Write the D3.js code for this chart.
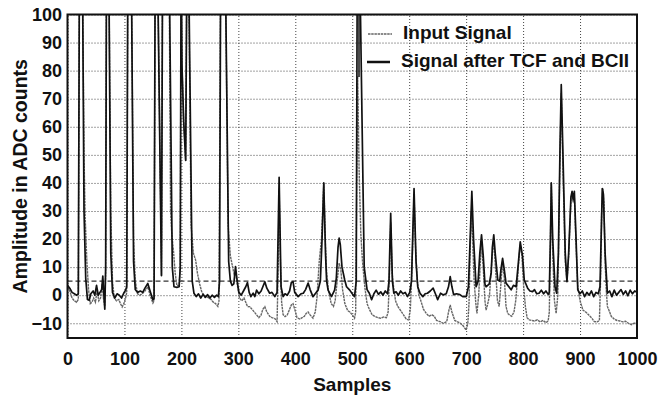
<!DOCTYPE html>
<html>
<head>
<meta charset="utf-8">
<script src="https://cdn.jsdelivr.net/npm/d3@7"></script>
<style>
body { margin: 0; background: #fff; }
svg text { font-family: "Liberation Sans", Arial, Helvetica, sans-serif; font-weight: bold; fill: #111; }
</style>
</head>
<body>
<div id="chart"></div>
<script>
// chart data: [sample, amplitude]
const xTicks = [0, 100, 200, 300, 400, 500, 600, 700, 800, 900, 1000];
const yTicks = [-10, 0, 10, 20, 30, 40, 50, 60, 70, 80, 90, 100];
const threshold = 5;
const legendLabels = ["Input Signal", "Signal after TCF and BCII"];

const inputSignal = [
    [0, 3], [4, 1.5], [8, -1], [12, -2], [16, -2.5], [19, -1.5], [21, 120], [26, 125], [29, 50], [31, 28],
    [34, 12], [37, 2], [40, -3], [43, -2.5], [46, -1], [49, -2.5], [52, 1.5], [55, -2], [58, -1], [61, 4],
    [63, -1], [65.5, -4], [67, 8], [68.5, 120], [72.5, 120], [76, 30], [79, 5], [82, -1], [86, -2], [90, -1.5],
    [93, -3], [96, -4.2], [99, -3], [102, -1], [104, 1], [106, 120], [112, 120], [116, 20], [119, 5], [123, 0.5],
    [127, 0], [131, 0.5], [136, 1.5], [141, 3], [145, 0], [150, -2.8], [152, -2], [154, 120], [158, 120], [165, 7],
    [167, 120], [178, 130], [181, 30], [183, 22], [186, 16], [189, 8], [192, 3.5], [196, 3.5], [198, 10], [199.5, 120],
    [201, 82], [204, 62], [207.5, 48], [210, 130], [212, 130], [217, 25], [221, 15], [225, 12.5], [228, 8], [232, 4],
    [236, 1], [240, 0], [244, -0.5], [248, -1], [252, -1.5], [256, -2.5], [260, -3], [264, -4], [266, -2], [269, 120],
    [277, 120], [282, 25], [286, 14], [290, 10], [293, 7], [295, 8.5], [298, 4], [302, -1], [306, -2], [310, -1],
    [313, -2.5], [316, -4], [320, -4.1], [326, -5.5], [332, -7], [336, -8], [340, -7], [343, -5], [346.5, -4.1], [350, -6],
    [355, -7.5], [359, -8], [364, -8.3], [368, -9.4], [370, 10], [371.6, 38], [374, 10], [376, -2.6], [378.6, -6.9], [382, -7.6],
    [386, -7], [390, -5], [393, -3.5], [396, -3], [399, -5], [403, -8], [408, -8.5], [412, -8], [416, -7.5], [419, -6.5],
    [422.5, -6], [426, -7], [431, -8.2], [435, -6], [438, -1], [442, 12], [446, 20], [450, 40], [453, 18], [455, 8],
    [458, 2], [463, -3], [467, -4], [470, -2], [474, 6], [477, 11.4], [480, 9], [483, 2], [487, -3], [492, -5.5],
    [496, -6], [500, -7], [504, -8.2], [506, -6], [509.5, 78], [512, 45], [515, 22], [518, 12], [522, 3], [526, -3],
    [530, -5], [535, -7], [540, -7.6], [545, -8], [550, -8.2], [555, -7.8], [560, -8], [563, -6], [565, 5], [567.5, 26],
    [570, 8], [573, 2], [576, -2], [580, -4], [585, -5.5], [590, -7], [595, -8.6], [599, -8.8], [602, -5], [605, 10],
    [608.5, 36], [611, 18], [614, 5.4], [617, 0], [620, -1.7], [625, -5], [630, -6.5], [635, -7.5], [640, -7], [644, -7.5],
    [648, -9], [654, -9.4], [660, -10], [666, -9.4], [669, -6], [672, -3.5], [675, -6], [680, -9], [685, -9.5], [690, -10],
    [695, -11], [700, -12.4], [703, -10], [705, -3], [707, 15], [709, 30], [711, 22], [714, 5], [717, -3], [719, -6.5],
    [722, 0], [725, 12], [727, 19], [730, 10], [733, -2], [735, -5.3], [738, -3], [741, 0], [745, 12], [748.5, 20],
    [752, 8], [755, -2], [758, -4], [761, 4], [764, 12], [767, 6], [770, -4], [773, -6.5], [776, -7], [780, -7.5],
    [784, -6], [787, -2], [790, 5], [793, 14], [795, 18], [798, 14], [801, 3], [804, -4], [807, -8], [811, -8.8],
    [815, -9], [820, -9.2], [825, -8.8], [830, -9.5], [835, -9], [840, -9.8], [844, -9.2], [846, -6], [848, 20], [849.5, 40],
    [852, 15], [855, -2], [858, -6.5], [861, 0], [864, 40], [867, 72], [870, 45], [874, 12], [877, 4.8], [880, 14],
    [884, 34], [886, 36], [888, 33], [890, 35], [893, 18], [896, 3], [900, -2], [905, -5.3], [910, -6], [915, -7],
    [920, -8], [925, -9.4], [930, -9.5], [934, -9], [936, 5], [938, 30], [940, 38], [942, 33], [944, 12], [946, 2],
    [948, -4], [952, -6], [955, -7.6], [960, -8.5], [965, -9], [970, -9.2], [975, -9.5], [980, -9.3], [985, -10], [990, -10.5],
    [995, -10], [1000, -9.8]
];

const filteredSignal = [
    [0, 3.5], [4, 2.5], [8, 1], [12, 0.5], [16, 0], [19, 0.5], [21, 120], [26, 125], [29, 30], [32, 6],
    [35, -1.5], [38, -1.8], [41, 0.5], [45, 1.5], [48, 0], [51, 3.5], [54, 0], [57, 1], [60, 2], [62, 6.8],
    [64, 0], [65.5, -5], [67, 10], [68.5, 120], [72.5, 120], [76, 15], [79, 1], [83, -1], [87, 0.5], [91, 0],
    [95, -1], [99, 0.8], [102, 1.8], [104, 3], [106, 120], [112, 120], [116, 12], [119, 2], [123, 1], [128, 1.5],
    [132, 1], [136, 2.5], [141, 4.2], [145, 1.5], [150, -1.7], [152, -1], [154, 120], [158, 120], [165, 7], [167, 120],
    [178, 130], [184, 10], [187, 3], [192, 2.8], [196, 3], [198, 10], [199.5, 120], [201, 82], [204, 62], [207.5, 48],
    [210, 130], [212, 130], [219, 5], [222, 0.7], [226, -0.5], [230, 0.5], [234, -1], [238, 0.3], [242, -0.8], [246, 0.2],
    [250, -1], [254, 0], [258, -0.8], [262, 0], [265, -0.5], [267, 5], [269, 120], [277, 120], [283, 12], [286, 5],
    [289, 3.5], [292, 4], [295, 10.2], [298, 5], [301, 1], [305, 0], [309, 1.5], [313, 3], [316, 4.5], [319, 1],
    [322, -0.5], [326, 0.7], [329, -0.5], [332, 1.8], [336, 0.5], [340, 1.5], [343, 3], [346.5, 4.8], [350, 2.5], [355, 0.7],
    [359, 1], [364, -0.5], [368, 1], [371.6, 42], [375, 3], [378.6, -0.5], [382, 0.5], [386, 0], [390, 1.5], [393, 4.5],
    [396, 4.8], [399, 1], [405, -0.5], [410, 0.5], [414, 0.7], [418, 2], [422.5, 4.3], [426, 2], [431, -0.5], [435, 0.5],
    [440, 1.8], [444, 5], [447, 20], [450, 40], [453, 15], [455, 5], [457.6, 1.8], [463.5, -0.5], [469, 1.8], [472, 6],
    [475, 17], [477, 20.3], [479, 18], [482, 10], [486.8, 5.4], [490, 3], [495.6, 1.8], [500, 0.5], [504, -0.5], [507, 5],
    [509, 130], [513, 120], [521, 10], [526, 2], [530, 0.7], [534, -1.6], [538, 0.5], [542, 1.8], [546, 0.3], [550, 1.2],
    [554, 0], [558, 1.5], [562, 0.5], [564.5, 5], [567.5, 29.2], [570.5, 5], [573, 0.7], [577, 1.2], [581, 0], [585, 1.5],
    [589, 0.5], [593, 1], [597, -0.5], [601, 1], [604, 5], [608.5, 38], [612, 12], [615, 3], [619, 0.7], [624, -0.5],
    [628, 0.5], [632, 0.7], [637, 1.5], [642, 2.5], [646, 0.5], [650, -1.6], [655, 0.7], [660, 0.1], [665, 0.5], [669, 3],
    [672, 6.6], [675, 3], [678, 0.2], [683, 0.5], [689, 0.2], [694, -0.5], [700, -0.5], [704, 3], [707, 20], [710, 37],
    [713, 20], [717.5, 3], [721, 5], [724, 15], [727, 21.5], [730, 14], [733, 4], [735, 3], [740.6, 4], [744, 8],
    [746, 17], [748.5, 21.5], [751, 15], [755.5, 5.4], [759, 5], [761, 9], [764, 13.1], [767, 9], [770, 4.3], [775, 3],
    [779, 1.9], [783, 3.5], [787.7, 3], [791, 10], [795, 19], [799, 14], [802, 5.4], [808, 2.5], [812, 1.5], [816.6, 1.3],
    [820, 2], [824, 0.5], [828, 0.7], [832, 1.8], [836, 0.5], [840, 1.5], [844, 0.3], [846, 1], [848, 20], [849.5, 40],
    [852, 20], [856, 3], [859, 0.7], [862, 15], [865, 55], [867, 75], [870, 50], [874, 15], [877, 4.8], [880, 15],
    [884, 35], [886, 37], [888, 34], [890, 37], [893, 20], [896, 1.9], [900, 0.5], [904, 1.5], [908, -0.5], [912, 1],
    [916, 0], [920, 1.5], [924, -0.5], [928, 1], [932, 0.5], [935, 3], [937, 20], [939, 38], [941, 36], [944, 15],
    [948, 0.7], [952, 1.5], [956, -0.5], [960, 1.8], [964, 0], [968, 1], [972, 2], [976, 0.3], [980, 1.5], [984, -0.2],
    [988, 1.8], [992, 0.5], [996, 1.5], [1000, 1]
];

var width = 660, height = 400;
var plotLeft = 67.5, plotRight = 637, plotTop = 14.5, plotBottom = 338;

var x = d3.scaleLinear().domain([0, 1000]).range([plotLeft, plotRight]);
var y = d3.scaleLinear().domain([-15.25, 100]).range([plotBottom, plotTop]);

var svg = d3.select("#chart").append("svg")
        .attr("width", width)
        .attr("height", height);

svg.append("clipPath").attr("id", "plot-clip")
        .append("rect")
        .attr("x", plotLeft)
        .attr("y", plotTop)
        .attr("width", plotRight - plotLeft)
        .attr("height", plotBottom - plotTop);

// dotted grid
svg.append("g")
        .attr("transform", "translate(0," + plotBottom + ")")
        .call(d3.axisBottom(x).tickValues(xTicks).tickSize(-(plotBottom - plotTop)).tickFormat(""))
        .call(g => g.select(".domain").remove())
        .selectAll("line")
        .attr("stroke", "#444")
        .attr("stroke-dasharray", "1,2");
svg.append("g")
        .attr("transform", "translate(" + plotLeft + ",0)")
        .call(d3.axisLeft(y).tickValues(yTicks).tickSize(-(plotRight - plotLeft)).tickFormat(""))
        .call(g => g.select(".domain").remove())
        .selectAll("line")
        .attr("stroke", "#444")
        .attr("stroke-dasharray", "1,2");

// threshold at 5 counts
svg.append("line")
        .attr("x1", plotLeft).attr("x2", plotRight)
        .attr("y1", y(threshold)).attr("y2", y(threshold))
        .attr("stroke", "#333")
        .attr("stroke-width", 1.3)
        .attr("stroke-dasharray", "5,3");

var line = d3.line().x(d => x(d[0])).y(d => y(d[1]));

var traces = svg.append("g").attr("clip-path", "url(#plot-clip)");
traces.append("path")
        .datum(inputSignal)
        .attr("d", line)
        .attr("fill", "none")
        .attr("stroke", "#666")
        .attr("stroke-width", 1.4)
        .attr("stroke-dasharray", "2.5,0.7");
traces.append("path")
        .datum(filteredSignal)
        .attr("d", line)
        .attr("fill", "none")
        .attr("stroke", "#111")
        .attr("stroke-width", 1.7)
        .attr("stroke-linejoin", "round");

// tick labels
svg.append("g")
        .attr("transform", "translate(0," + plotBottom + ")")
        .call(d3.axisBottom(x).tickValues(xTicks).tickFormat(d3.format("d")).tickSize(0).tickPadding(14))
        .call(g => g.select(".domain").remove())
        .selectAll("text")
        .style("font-size", "18px");
svg.append("g")
        .attr("transform", "translate(" + plotLeft + ",0)")
        .call(d3.axisLeft(y).tickValues(yTicks).tickFormat(d3.format("d")).tickSize(0).tickPadding(5.5))
        .call(g => g.select(".domain").remove())
        .selectAll("text")
        .style("font-size", "18px");

// frame
svg.append("rect")
        .attr("x", plotLeft)
        .attr("y", plotTop)
        .attr("width", plotRight - plotLeft)
        .attr("height", plotBottom - plotTop)
        .attr("fill", "none")
        .attr("stroke", "#111")
        .attr("stroke-width", 2);

// axis titles
svg.append("text")
        .attr("x", (plotLeft + plotRight) / 2)
        .attr("y", 391)
        .attr("text-anchor", "middle")
        .style("font-size", "19px")
        .text("Samples");
svg.append("text")
        .attr("transform", "translate(26.5," + ((plotTop + plotBottom) / 2) + ") rotate(-90)")
        .attr("text-anchor", "middle")
        .style("font-size", "19.5px")
        .text("Amplitude in ADC counts");

// legend
var legend = svg.append("g");
legend.append("line")
        .attr("x1", 359).attr("x2", 359)
        .attr("y1", plotTop).attr("y2", 77)
        .attr("stroke", "#111")
        .attr("stroke-width", 1.5);
legend.append("line")
        .attr("x1", 368).attr("x2", 392)
        .attr("y1", 34).attr("y2", 34)
        .attr("stroke", "#666")
        .attr("stroke-width", 1.6)
        .attr("stroke-dasharray", "2.5,0.7");
legend.append("line")
        .attr("x1", 367).attr("x2", 390)
        .attr("y1", 62).attr("y2", 62)
        .attr("stroke", "#111")
        .attr("stroke-width", 2.5);
legend.selectAll(".label")
        .data(legendLabels)
        .enter().append("text")
        .attr("class", "label")
        .attr("x", (d, i) => i === 0 ? 403 : 401)
        .attr("y", (d, i) => i === 0 ? 38.5 : 67)
        .style("font-size", "19px")
        .text(d => d);
</script>
</body>
</html>
